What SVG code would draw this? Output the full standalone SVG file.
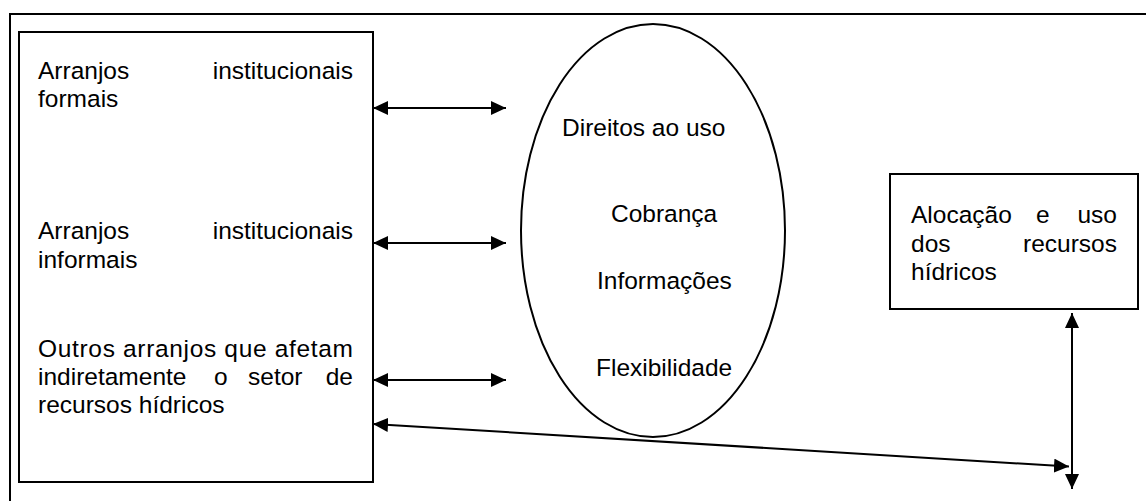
<svg xmlns="http://www.w3.org/2000/svg" width="1146" height="501" viewBox="0 0 1146 501">
<style>
.box{fill:none;stroke:#000;stroke-width:2}
.t{font-family:"Liberation Sans",Arial,sans-serif;font-size:24.5px;fill:#000}
.e{text-anchor:end}
.c{stroke:#000;stroke-width:2;fill:none;marker-start:url(#ah);marker-end:url(#ah)}
</style>
<defs>
<marker id="ah" markerUnits="userSpaceOnUse" markerWidth="16" markerHeight="14" refX="15" refY="7" orient="auto-start-reverse">
<path d="M0,0 L15,7 L0,14 z" fill="#000"/>
</marker>
</defs>
<rect x="10" y="14" width="1160" height="520" class="box"/>
<g id="institutional-arrangements">
<rect x="19" y="32" width="354" height="450" class="box"/>
<text class="t" x="38" y="79">Arranjos</text>
<text class="t e" x="353" y="79">institucionais</text>
<text class="t" x="38" y="107">formais</text>
<text class="t" x="38" y="239">Arranjos</text>
<text class="t e" x="353" y="239">institucionais</text>
<text class="t" x="38" y="268">informais</text>
<text class="t" x="38" y="357" textLength="315" lengthAdjust="spacing">Outros arranjos que afetam</text>
<text class="t" x="38" y="385">indiretamente</text>
<text class="t" x="214" y="385">o</text>
<text class="t" x="248" y="385">setor</text>
<text class="t e" x="353" y="385">de</text>
<text class="t" x="38" y="413">recursos hídricos</text>
</g>
<g id="instruments">
<ellipse cx="653" cy="230.5" rx="132" ry="206.5" class="box"/>
<text class="t" x="562" y="136">Direitos ao uso</text>
<text class="t" x="611" y="222">Cobrança</text>
<text class="t" x="597" y="289">Informações</text>
<text class="t" x="596" y="376">Flexibilidade</text>
</g>
<g id="allocation">
<rect x="890" y="174" width="248" height="135" class="box"/>
<text class="t" x="911" y="223">Alocação</text>
<text class="t" x="1036" y="223">e</text>
<text class="t e" x="1117" y="223">uso</text>
<text class="t" x="911" y="252">dos</text>
<text class="t e" x="1117" y="252">recursos</text>
<text class="t" x="911" y="280">hídricos</text>
</g>
<g id="connectors">
<line x1="373" y1="108" x2="506" y2="108" class="c"/>
<line x1="373" y1="243" x2="506" y2="243" class="c"/>
<line x1="373" y1="380" x2="506" y2="380" class="c"/>
<line x1="373" y1="424" x2="1069" y2="466.5" class="c"/>
<line x1="1072" y1="313" x2="1072" y2="489" class="c"/>
</g>
</svg>
